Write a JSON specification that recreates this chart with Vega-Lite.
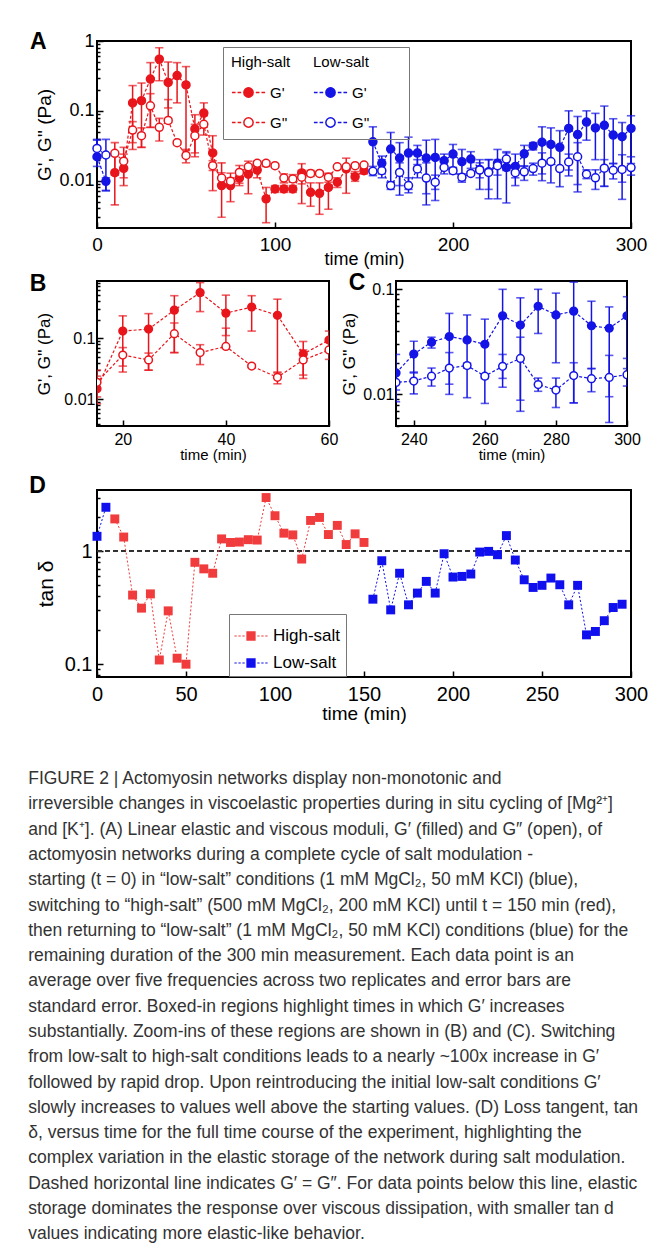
{
  "$schema": "https://vega.github.io/schema/vega-lite/v6.json",
  "background": "white",
  "padding": {"left": 28, "top": 30, "right": 0, "bottom": 0},
  "config": {
    "font": "Liberation Sans",
    "view": {"stroke": "black", "strokeWidth": 2},
    "axis": {"grid": false, "domain": false, "tickColor": "black", "tickSize": -6, "tickWidth": 1.5, "labelColor": "black", "titleColor": "black", "titleFontWeight": "normal", "labelFlush": false, "labelOverlap": false},
    "title": {"anchor": "start", "frame": "bounds", "fontWeight": "bold", "fontSize": 23, "baseline": "top", "offset": 0, "dx": -6, "color": "black"}
  },
  "title": {
    "text": [
      "FIGURE 2 | Actomyosin networks display non-monotonic and",
      "irreversible changes in viscoelastic properties during in situ cycling of [Mg²⁺]",
      "and [K⁺]. (A) Linear elastic and viscous moduli, G′ (filled) and G″ (open), of",
      "actomyosin networks during a complete cycle of salt modulation -",
      "starting (t = 0) in “low-salt” conditions (1 mM MgCl₂, 50 mM KCl) (blue),",
      "switching to “high-salt” (500 mM MgCl₂, 200 mM KCl) until t = 150 min (red),",
      "then returning to “low-salt” (1 mM MgCl₂, 50 mM KCl) conditions (blue) for the",
      "remaining duration of the 300 min measurement. Each data point is an",
      "average over five frequencies across two replicates and error bars are",
      "standard error. Boxed-in regions highlight times in which G′ increases",
      "substantially. Zoom-ins of these regions are shown in (B) and (C). Switching",
      "from low-salt to high-salt conditions leads to a nearly ~100x increase in G′",
      "followed by rapid drop. Upon reintroducing the initial low-salt conditions G′",
      "slowly increases to values well above the starting values. (D) Loss tangent, tan",
      "δ, versus time for the full time course of the experiment, highlighting the",
      "complex variation in the elastic storage of the network during salt modulation.",
      "Dashed horizontal line indicates G′ = G″. For data points below this line, elastic",
      "storage dominates the response over viscous dissipation, with smaller tan d",
      "values indicating more elastic-like behavior."
    ],
    "orient": "bottom",
    "anchor": "start",
    "frame": "bounds",
    "fontSize": 17.5,
    "fontWeight": "normal",
    "lineHeight": 25.3,
    "baseline": "top",
    "offset": 46,
    "dx": 0,
    "dy": 0,
    "color": "#333"
  },
  "datasets": {
    "g": [
      {"t":0,"seg":"a","k":"Low-salt G'","v":0.022,"lo":0.016,"hi":0.038},
      {"t":0,"seg":"a","k":"Low-salt G''","v":0.029,"lo":0.021,"hi":0.039},
      {"t":5,"seg":"a","k":"Low-salt G'","v":0.0098,"lo":0.0072,"hi":0.011},
      {"t":5,"seg":"a","k":"Low-salt G''","v":0.0233,"lo":0.0072,"hi":0.039},
      {"t":10,"seg":"b","k":"High-salt G'","v":0.013,"lo":0.0045,"hi":0.024},
      {"t":10,"seg":"b","k":"High-salt G''","v":0.0246,"lo":0.012,"hi":0.035},
      {"t":15,"seg":"b","k":"High-salt G'","v":0.015,"lo":0.0085,"hi":0.024},
      {"t":15,"seg":"b","k":"High-salt G''","v":0.019,"lo":0.011,"hi":0.03},
      {"t":20,"seg":"b","k":"High-salt G'","v":0.13,"lo":0.028,"hi":0.23},
      {"t":20,"seg":"b","k":"High-salt G''","v":0.053,"lo":0.035,"hi":0.07},
      {"t":25,"seg":"b","k":"High-salt G'","v":0.14,"lo":0.03,"hi":0.25},
      {"t":25,"seg":"b","k":"High-salt G''","v":0.044,"lo":0.03,"hi":0.057},
      {"t":30,"seg":"b","k":"High-salt G'","v":0.285,"lo":0.058,"hi":0.49},
      {"t":30,"seg":"b","k":"High-salt G''","v":0.118,"lo":0.058,"hi":0.176},
      {"t":35,"seg":"b","k":"High-salt G'","v":0.55,"lo":0.27,"hi":0.8},
      {"t":35,"seg":"b","k":"High-salt G''","v":0.058,"lo":0.037,"hi":0.078},
      {"t":40,"seg":"b","k":"High-salt G'","v":0.255,"lo":0.11,"hi":0.5},
      {"t":40,"seg":"b","k":"High-salt G''","v":0.073,"lo":0.068,"hi":0.145},
      {"t":45,"seg":"b","k":"High-salt G'","v":0.32,"lo":0.13,"hi":0.49},
      {"t":45,"seg":"b","k":"High-salt G''","v":0.035,"lo":0.033,"hi":0.037},
      {"t":50,"seg":"b","k":"High-salt G'","v":0.235,"lo":0.027,"hi":0.43},
      {"t":50,"seg":"b","k":"High-salt G''","v":0.023,"lo":0.018,"hi":0.028},
      {"t":55,"seg":"b","k":"High-salt G'","v":0.055,"lo":0.022,"hi":0.088},
      {"t":55,"seg":"b","k":"High-salt G''","v":0.044,"lo":0.025,"hi":0.064},
      {"t":60,"seg":"b","k":"High-salt G'","v":0.093,"lo":0.06,"hi":0.13},
      {"t":60,"seg":"b","k":"High-salt G''","v":0.064,"lo":0.045,"hi":0.085},
      {"t":65,"seg":"b","k":"High-salt G'","v":0.025,"lo":0.014,"hi":0.044},
      {"t":65,"seg":"b","k":"High-salt G''","v":0.0164,"lo":0.0072,"hi":0.0193},
      {"t":70,"seg":"b","k":"High-salt G'","v":0.0085,"lo":0.003,"hi":0.018},
      {"t":70,"seg":"b","k":"High-salt G''","v":0.0109,"lo":0.009,"hi":0.013},
      {"t":75,"seg":"b","k":"High-salt G'","v":0.0085,"lo":0.005,"hi":0.0128},
      {"t":75,"seg":"b","k":"High-salt G''","v":0.0098,"lo":0.0085,"hi":0.011},
      {"t":80,"seg":"b","k":"High-salt G'","v":0.0109,"lo":0.0092,"hi":0.013},
      {"t":80,"seg":"b","k":"High-salt G''","v":0.0131,"lo":0.0085,"hi":0.0165},
      {"t":85,"seg":"b","k":"High-salt G'","v":0.0124,"lo":0.0065,"hi":0.0165},
      {"t":85,"seg":"b","k":"High-salt G''","v":0.0158,"lo":0.014,"hi":0.019},
      {"t":90,"seg":"b","k":"High-salt G'","v":0.0142,"lo":0.011,"hi":0.0178},
      {"t":90,"seg":"b","k":"High-salt G''","v":0.0177,"lo":0.016,"hi":0.019},
      {"t":95,"seg":"b","k":"High-salt G'","v":0.0055,"lo":0.0025,"hi":0.008},
      {"t":95,"seg":"b","k":"High-salt G''","v":0.0177,"lo":0.016,"hi":0.019},
      {"t":100,"seg":"b","k":"High-salt G'","v":0.0076,"lo":0.0068,"hi":0.0085},
      {"t":100,"seg":"b","k":"High-salt G''","v":0.0164,"lo":0.0155,"hi":0.0172},
      {"t":105,"seg":"b","k":"High-salt G'","v":0.0076,"lo":0.0068,"hi":0.0085},
      {"t":105,"seg":"b","k":"High-salt G''","v":0.0109,"lo":0.0093,"hi":0.0125},
      {"t":110,"seg":"b","k":"High-salt G'","v":0.0076,"lo":0.0068,"hi":0.0085},
      {"t":110,"seg":"b","k":"High-salt G''","v":0.0106,"lo":0.0095,"hi":0.0122},
      {"t":115,"seg":"b","k":"High-salt G'","v":0.0129,"lo":0.0047,"hi":0.0175},
      {"t":115,"seg":"b","k":"High-salt G''","v":0.0112,"lo":0.009,"hi":0.014},
      {"t":120,"seg":"b","k":"High-salt G'","v":0.0068,"lo":0.0043,"hi":0.0093},
      {"t":120,"seg":"b","k":"High-salt G''","v":0.0127,"lo":0.0115,"hi":0.014},
      {"t":125,"seg":"b","k":"High-salt G'","v":0.0066,"lo":0.0033,"hi":0.0093},
      {"t":125,"seg":"b","k":"High-salt G''","v":0.0127,"lo":0.012,"hi":0.0135},
      {"t":130,"seg":"b","k":"High-salt G'","v":0.008,"lo":0.0039,"hi":0.0124},
      {"t":130,"seg":"b","k":"High-salt G''","v":0.0112,"lo":0.0095,"hi":0.0128},
      {"t":135,"seg":"b","k":"High-salt G'","v":0.0095,"lo":0.008,"hi":0.011},
      {"t":135,"seg":"b","k":"High-salt G''","v":0.0158,"lo":0.015,"hi":0.0165},
      {"t":140,"seg":"b","k":"High-salt G'","v":0.0147,"lo":0.0066,"hi":0.021},
      {"t":140,"seg":"b","k":"High-salt G''","v":0.0158,"lo":0.015,"hi":0.0165},
      {"t":145,"seg":"b","k":"High-salt G'","v":0.0114,"lo":0.0098,"hi":0.0135},
      {"t":145,"seg":"b","k":"High-salt G''","v":0.0164,"lo":0.0155,"hi":0.0172},
      {"t":150,"seg":"b","k":"High-salt G'","v":0.0139,"lo":0.0125,"hi":0.015},
      {"t":150,"seg":"b","k":"High-salt G''","v":0.0167,"lo":0.0158,"hi":0.0175},
      {"t":155,"seg":"c","k":"Low-salt G'","v":0.036,"lo":0.0142,"hi":0.059},
      {"t":155,"seg":"c","k":"Low-salt G''","v":0.0136,"lo":0.0118,"hi":0.016},
      {"t":160,"seg":"c","k":"Low-salt G'","v":0.0177,"lo":0.0125,"hi":0.0225},
      {"t":160,"seg":"c","k":"Low-salt G''","v":0.0139,"lo":0.011,"hi":0.02},
      {"t":165,"seg":"c","k":"Low-salt G'","v":0.0284,"lo":0.0095,"hi":0.049},
      {"t":165,"seg":"c","k":"Low-salt G''","v":0.0085,"lo":0.0075,"hi":0.0095},
      {"t":170,"seg":"c","k":"Low-salt G'","v":0.0211,"lo":0.0062,"hi":0.035},
      {"t":170,"seg":"c","k":"Low-salt G''","v":0.0131,"lo":0.0085,"hi":0.018},
      {"t":175,"seg":"c","k":"Low-salt G'","v":0.0248,"lo":0.0067,"hi":0.042},
      {"t":175,"seg":"c","k":"Low-salt G''","v":0.0085,"lo":0.0075,"hi":0.011},
      {"t":180,"seg":"c","k":"Low-salt G'","v":0.0248,"lo":0.017,"hi":0.032},
      {"t":180,"seg":"c","k":"Low-salt G''","v":0.0147,"lo":0.011,"hi":0.02},
      {"t":185,"seg":"c","k":"Low-salt G'","v":0.0211,"lo":0.0045,"hi":0.038},
      {"t":185,"seg":"c","k":"Low-salt G''","v":0.0109,"lo":0.0065,"hi":0.018},
      {"t":190,"seg":"c","k":"Low-salt G'","v":0.0215,"lo":0.0052,"hi":0.039},
      {"t":190,"seg":"c","k":"Low-salt G''","v":0.0095,"lo":0.0075,"hi":0.012},
      {"t":195,"seg":"c","k":"Low-salt G'","v":0.0193,"lo":0.015,"hi":0.024},
      {"t":195,"seg":"c","k":"Low-salt G''","v":0.0155,"lo":0.0125,"hi":0.019},
      {"t":200,"seg":"c","k":"Low-salt G'","v":0.024,"lo":0.015,"hi":0.033},
      {"t":200,"seg":"c","k":"Low-salt G''","v":0.0139,"lo":0.0125,"hi":0.0155},
      {"t":205,"seg":"c","k":"Low-salt G'","v":0.0187,"lo":0.0095,"hi":0.028},
      {"t":205,"seg":"c","k":"Low-salt G''","v":0.0112,"lo":0.01,"hi":0.0125},
      {"t":210,"seg":"c","k":"Low-salt G'","v":0.0204,"lo":0.015,"hi":0.026},
      {"t":210,"seg":"c","k":"Low-salt G''","v":0.0127,"lo":0.012,"hi":0.0135},
      {"t":215,"seg":"c","k":"Low-salt G'","v":0.0145,"lo":0.011,"hi":0.018},
      {"t":215,"seg":"c","k":"Low-salt G''","v":0.0142,"lo":0.0075,"hi":0.02},
      {"t":220,"seg":"c","k":"Low-salt G'","v":0.0134,"lo":0.0055,"hi":0.02},
      {"t":220,"seg":"c","k":"Low-salt G''","v":0.0131,"lo":0.0075,"hi":0.02},
      {"t":225,"seg":"c","k":"Low-salt G'","v":0.0177,"lo":0.0055,"hi":0.028},
      {"t":225,"seg":"c","k":"Low-salt G''","v":0.0164,"lo":0.012,"hi":0.02},
      {"t":230,"seg":"c","k":"Low-salt G'","v":0.0155,"lo":0.0048,"hi":0.026},
      {"t":230,"seg":"c","k":"Low-salt G''","v":0.0204,"lo":0.014,"hi":0.025},
      {"t":235,"seg":"c","k":"Low-salt G'","v":0.016,"lo":0.011,"hi":0.024},
      {"t":235,"seg":"c","k":"Low-salt G''","v":0.013,"lo":0.0085,"hi":0.0165},
      {"t":240,"seg":"c","k":"Low-salt G'","v":0.0242,"lo":0.016,"hi":0.032},
      {"t":240,"seg":"c","k":"Low-salt G''","v":0.0134,"lo":0.0101,"hi":0.0163},
      {"t":245,"seg":"c","k":"Low-salt G'","v":0.0314,"lo":0.0276,"hi":0.035},
      {"t":245,"seg":"c","k":"Low-salt G''","v":0.0149,"lo":0.012,"hi":0.0178},
      {"t":250,"seg":"c","k":"Low-salt G'","v":0.0355,"lo":0.01,"hi":0.059},
      {"t":250,"seg":"c","k":"Low-salt G''","v":0.0178,"lo":0.0125,"hi":0.025},
      {"t":255,"seg":"c","k":"Low-salt G'","v":0.033,"lo":0.0093,"hi":0.057},
      {"t":255,"seg":"c","k":"Low-salt G''","v":0.0188,"lo":0.0178,"hi":0.0198},
      {"t":260,"seg":"c","k":"Low-salt G'","v":0.03,"lo":0.0082,"hi":0.052},
      {"t":260,"seg":"c","k":"Low-salt G''","v":0.0149,"lo":0.0142,"hi":0.0156},
      {"t":265,"seg":"c","k":"Low-salt G'","v":0.056,"lo":0.0117,"hi":0.1},
      {"t":265,"seg":"c","k":"Low-salt G''","v":0.0185,"lo":0.0142,"hi":0.024},
      {"t":270,"seg":"c","k":"Low-salt G'","v":0.0457,"lo":0.0069,"hi":0.083},
      {"t":270,"seg":"c","k":"Low-salt G''","v":0.022,"lo":0.0088,"hi":0.035},
      {"t":275,"seg":"c","k":"Low-salt G'","v":0.069,"lo":0.038,"hi":0.1},
      {"t":275,"seg":"c","k":"Low-salt G''","v":0.0124,"lo":0.0107,"hi":0.0143},
      {"t":280,"seg":"c","k":"Low-salt G'","v":0.057,"lo":0.02,"hi":0.092},
      {"t":280,"seg":"c","k":"Low-salt G''","v":0.011,"lo":0.0075,"hi":0.0143},
      {"t":285,"seg":"c","k":"Low-salt G'","v":0.062,"lo":0.0083,"hi":0.117},
      {"t":285,"seg":"c","k":"Low-salt G''","v":0.0151,"lo":0.0083,"hi":0.02},
      {"t":290,"seg":"c","k":"Low-salt G'","v":0.045,"lo":0.0176,"hi":0.077},
      {"t":290,"seg":"c","k":"Low-salt G''","v":0.0141,"lo":0.0106,"hi":0.0176},
      {"t":295,"seg":"c","k":"Low-salt G'","v":0.0426,"lo":0.0054,"hi":0.068},
      {"t":295,"seg":"c","k":"Low-salt G''","v":0.0145,"lo":0.0095,"hi":0.0235},
      {"t":300,"seg":"c","k":"Low-salt G'","v":0.056,"lo":0.0176,"hi":0.085},
      {"t":300,"seg":"c","k":"Low-salt G''","v":0.0154,"lo":0.012,"hi":0.022}
    ],
    "tan": [
      {"t":0,"s":"Low-salt","seg":"a","v":1.36},{"t":5,"s":"Low-salt","seg":"a","v":2.46},
      {"t":10,"s":"High-salt","seg":"b","v":1.94},{"t":15,"s":"High-salt","seg":"b","v":1.34},
      {"t":20,"s":"High-salt","seg":"b","v":0.41},{"t":25,"s":"High-salt","seg":"b","v":0.314},
      {"t":30,"s":"High-salt","seg":"b","v":0.42},{"t":35,"s":"High-salt","seg":"b","v":0.109},
      {"t":40,"s":"High-salt","seg":"b","v":0.297},{"t":45,"s":"High-salt","seg":"b","v":0.113},
      {"t":50,"s":"High-salt","seg":"b","v":0.1},{"t":55,"s":"High-salt","seg":"b","v":0.8},
      {"t":60,"s":"High-salt","seg":"b","v":0.7},{"t":65,"s":"High-salt","seg":"b","v":0.64},
      {"t":70,"s":"High-salt","seg":"b","v":1.29},{"t":75,"s":"High-salt","seg":"b","v":1.2},
      {"t":80,"s":"High-salt","seg":"b","v":1.21},{"t":85,"s":"High-salt","seg":"b","v":1.27},
      {"t":90,"s":"High-salt","seg":"b","v":1.26},{"t":95,"s":"High-salt","seg":"b","v":3.0},
      {"t":100,"s":"High-salt","seg":"b","v":2.07},{"t":105,"s":"High-salt","seg":"b","v":1.45},
      {"t":110,"s":"High-salt","seg":"b","v":1.4},{"t":115,"s":"High-salt","seg":"b","v":0.855},
      {"t":120,"s":"High-salt","seg":"b","v":1.88},{"t":125,"s":"High-salt","seg":"b","v":2.0},
      {"t":130,"s":"High-salt","seg":"b","v":1.41},{"t":135,"s":"High-salt","seg":"b","v":1.7},
      {"t":140,"s":"High-salt","seg":"b","v":1.15},{"t":145,"s":"High-salt","seg":"b","v":1.43},
      {"t":150,"s":"High-salt","seg":"b","v":1.2},
      {"t":155,"s":"Low-salt","seg":"c","v":0.377},{"t":160,"s":"Low-salt","seg":"c","v":0.826},
      {"t":165,"s":"Low-salt","seg":"c","v":0.303},{"t":170,"s":"Low-salt","seg":"c","v":0.64},
      {"t":175,"s":"Low-salt","seg":"c","v":0.336},{"t":180,"s":"Low-salt","seg":"c","v":0.427},
      {"t":185,"s":"Low-salt","seg":"c","v":0.542},{"t":190,"s":"Low-salt","seg":"c","v":0.427},
      {"t":195,"s":"Low-salt","seg":"c","v":0.953},{"t":200,"s":"Low-salt","seg":"c","v":0.592},
      {"t":205,"s":"Low-salt","seg":"c","v":0.6},{"t":210,"s":"Low-salt","seg":"c","v":0.63},
      {"t":215,"s":"Low-salt","seg":"c","v":0.986},{"t":220,"s":"Low-salt","seg":"c","v":1.0},
      {"t":225,"s":"Low-salt","seg":"c","v":0.934},{"t":230,"s":"Low-salt","seg":"c","v":1.38},
      {"t":235,"s":"Low-salt","seg":"c","v":0.838},{"t":240,"s":"Low-salt","seg":"c","v":0.56},
      {"t":245,"s":"Low-salt","seg":"c","v":0.479},{"t":250,"s":"Low-salt","seg":"c","v":0.5},
      {"t":255,"s":"Low-salt","seg":"c","v":0.58},{"t":260,"s":"Low-salt","seg":"c","v":0.506},
      {"t":265,"s":"Low-salt","seg":"c","v":0.336},{"t":270,"s":"Low-salt","seg":"c","v":0.5},
      {"t":275,"s":"Low-salt","seg":"c","v":0.182},{"t":280,"s":"Low-salt","seg":"c","v":0.195},
      {"t":285,"s":"Low-salt","seg":"c","v":0.243},{"t":290,"s":"Low-salt","seg":"c","v":0.318},
      {"t":295,"s":"Low-salt","seg":"c","v":0.34}
    ]
  },
  "concat": [
    {
      "concat": [
        {
          "title": {"text": "A", "dy": 26},
          "width": 534,
          "height": 187,
          "data": {"name": "g"},
          "encoding": {
            "x": {"field": "t", "type": "quantitative", "scale": {"domain": [0, 300], "nice": false}, "axis": {"values": [0, 100, 200, 300], "title": "time (min)", "labelFontSize": 19, "titleFontSize": 18, "labelPadding": 13, "titlePadding": -4}},
            "y": {"field": "v", "type": "quantitative", "scale": {"type": "log", "domain": [0.0021, 1], "nice": false}, "axis": {"values": [0.003, 0.004, 0.005, 0.006, 0.007, 0.008, 0.009, 0.01, 0.02, 0.03, 0.04, 0.05, 0.06, 0.07, 0.08, 0.09, 0.1, 0.2, 0.3, 0.4, 0.5, 0.6, 0.7, 0.8, 0.9, 1], "format": "~g", "labelExpr": "indexof([0.01, 0.1, 1], datum.value) >= 0 ? datum.label : ''", "tickSize": {"condition": {"test": "indexof([0.01, 0.1, 1], datum.value) >= 0", "value": -6}, "value": -3}, "title": "G', G'' (Pa)", "labelFontSize": 18, "titleFontSize": 19, "labelPadding": 9, "titlePadding": 4}}
          },
          "layer": [
            {
              "data": {"values": [{"a": 12}, {"a": 60}, {"a": 230}, {"a": 301.5}]},
              "mark": {"type": "rule", "stroke": "#111", "strokeWidth": 1.3, "strokeDash": [4, 3]},
              "encoding": {"x": {"field": "a", "type": "quantitative"}, "y": {"datum": 1}, "y2": {"datum": 0.0021}}
            },
            {
              "transform": [{"calculate": "indexof(datum.k, 'High') >= 0 ? '#e8161c' : '#1414e6'", "as": "sc"}],
              "mark": {"type": "rule", "strokeWidth": 1.5},
              "encoding": {"y": {"field": "lo", "type": "quantitative"}, "y2": {"field": "hi"}, "stroke": {"field": "sc", "type": "nominal", "scale": null}}
            },
            {
              "transform": [{"calculate": "indexof(datum.k, 'High') >= 0 ? '#e8161c' : '#1414e6'", "as": "sc"}],
              "mark": {"type": "tick", "orient": "horizontal", "size": 7, "thickness": 0.3, "filled": false, "strokeWidth": 1.3},
              "encoding": {"y": {"field": "lo", "type": "quantitative"}, "stroke": {"field": "sc", "type": "nominal", "scale": null}}
            },
            {
              "transform": [{"calculate": "indexof(datum.k, 'High') >= 0 ? '#e8161c' : '#1414e6'", "as": "sc"}],
              "mark": {"type": "tick", "orient": "horizontal", "size": 7, "thickness": 0.3, "filled": false, "strokeWidth": 1.3},
              "encoding": {"y": {"field": "hi", "type": "quantitative"}, "stroke": {"field": "sc", "type": "nominal", "scale": null}}
            },
            {
              "transform": [{"calculate": "indexof(datum.k, 'High') >= 0 ? '#e8161c' : '#1414e6'", "as": "sc"}],
              "mark": {"type": "line", "strokeWidth": 1.2, "strokeDash": [3, 2]},
              "encoding": {"stroke": {"field": "sc", "type": "nominal", "scale": null}, "detail": [{"field": "seg"}, {"field": "k"}]}
            },
            {
              "transform": [{"filter": "indexof(datum.k, 'High') >= 0"}],
              "mark": {"type": "point", "shape": "circle", "size": 64, "strokeWidth": 1.5, "opacity": 1, "stroke": "#e8161c"},
              "encoding": {
                "fill": {"field": "k", "type": "nominal", "scale": {"domain": ["High-salt G'", "High-salt G''"], "range": ["#e8161c", "white"]},
                  "legend": {"orient": "none", "legendX": 126, "legendY": 6, "title": "High-salt\u2800\u2800\u2800\u2800\u2800\u2800\u2800\u2800\u2800\u2800", "titleFontSize": 15, "titleFontWeight": "normal", "titlePadding": 5, "titleLimit": 400, "labelFontSize": 15, "labelExpr": "split(datum.label, ' ')[1]", "symbolType": "M-1,0H-0.78M-0.66,0H-0.44M0.44,0H0.66M0.78,0H1M0.28,0A0.28,0.28 0 1,1 -0.28,0A0.28,0.28 0 1,1 0.28,0Z", "symbolSize": 1100, "symbolStrokeWidth": 1.5, "symbolStrokeColor": "#e8161c", "strokeColor": "#777", "fillColor": "transparent", "padding": 8, "rowPadding": 4, "labelOffset": 4}}
              }
            },
            {
              "transform": [{"filter": "indexof(datum.k, 'Low') >= 0"}],
              "mark": {"type": "point", "shape": "circle", "size": 64, "strokeWidth": 1.5, "opacity": 1, "stroke": "#1414e6"},
              "encoding": {
                "fill": {"field": "k", "type": "nominal", "scale": {"domain": ["Low-salt G'", "Low-salt G''"], "range": ["#1414e6", "white"]},
                  "legend": {"orient": "none", "legendX": 208, "legendY": 6, "title": "Low-salt", "titleFontSize": 15, "titleFontWeight": "normal", "titlePadding": 5, "labelFontSize": 15, "labelExpr": "split(datum.label, ' ')[1]", "symbolType": "M-1,0H-0.78M-0.66,0H-0.44M0.44,0H0.66M0.78,0H1M0.28,0A0.28,0.28 0 1,1 -0.28,0A0.28,0.28 0 1,1 0.28,0Z", "symbolSize": 1100, "symbolStrokeWidth": 1.5, "symbolStrokeColor": "#1414e6", "strokeColor": "transparent", "fillColor": "transparent", "padding": 8, "rowPadding": 4, "labelOffset": 4}}
              }
            }
          ],
          "resolve": {"scale": {"fill": "independent"}, "legend": {"fill": "independent"}}
        },
        {
          "hconcat": [
            {
              "title": {"text": "B", "dy": 25},
              "width": 232,
              "height": 145,
              "data": {"name": "g"},
              "transform": [
                {"calculate": "indexof(datum.k, 'High') >= 0 ? '#e8161c' : '#1414e6'", "as": "sc"},
                {"calculate": "indexof(datum.k, \"''\") >= 0 ? 'white' : datum.sc", "as": "fc"}
              ],
              "encoding": {
                "x": {"field": "t", "type": "quantitative", "scale": {"domain": [15, 60], "nice": false}, "axis": {"values": [20, 40, 60], "title": "time (min)", "labelFontSize": 16, "titleFontSize": 15, "labelPadding": 11, "titlePadding": 0}},
                "y": {"field": "v", "type": "quantitative", "scale": {"type": "log", "domain": [0.0037, 0.85], "nice": false}, "axis": {"values": [0.004, 0.005, 0.006, 0.007, 0.008, 0.009, 0.01, 0.02, 0.03, 0.04, 0.05, 0.06, 0.07, 0.08, 0.09, 0.1, 0.2, 0.3, 0.4, 0.5, 0.6, 0.7, 0.8], "format": "~g", "labelExpr": "indexof([0.01, 0.1], datum.value) >= 0 ? datum.label : ''", "tickSize": {"condition": {"test": "indexof([0.01, 0.1], datum.value) >= 0", "value": -6}, "value": -3}, "title": "G', G'' (Pa)", "labelFontSize": 16, "titleFontSize": 17, "labelPadding": 8, "titlePadding": 10}}
              },
              "layer": [
                {"mark": {"type": "rule", "strokeWidth": 1.5, "clip": true}, "encoding": {"y": {"field": "lo", "type": "quantitative"}, "y2": {"field": "hi"}, "stroke": {"field": "sc", "type": "nominal", "scale": null}}},
                {"mark": {"type": "tick", "orient": "horizontal", "size": 7, "thickness": 0.3, "filled": false, "strokeWidth": 1.3, "clip": true}, "encoding": {"y": {"field": "lo", "type": "quantitative"}, "stroke": {"field": "sc", "type": "nominal", "scale": null}}},
                {"mark": {"type": "tick", "orient": "horizontal", "size": 7, "thickness": 0.3, "filled": false, "strokeWidth": 1.3, "clip": true}, "encoding": {"y": {"field": "hi", "type": "quantitative"}, "stroke": {"field": "sc", "type": "nominal", "scale": null}}},
                {"mark": {"type": "line", "strokeWidth": 1.2, "strokeDash": [3, 2], "clip": true}, "encoding": {"stroke": {"field": "sc", "type": "nominal", "scale": null}, "detail": [{"field": "seg"}, {"field": "k"}]}},
                {"mark": {"type": "point", "shape": "circle", "size": 60, "strokeWidth": 1.5, "opacity": 1, "clip": true},
                  "encoding": {"stroke": {"field": "sc", "type": "nominal", "scale": null}, "fill": {"field": "fc", "type": "nominal", "scale": null}}}
              ]
            },
            {
              "title": {"text": "C", "dy": 18, "dx": 8},
              "width": 231,
              "height": 145,
              "data": {"name": "g"},
              "transform": [
                {"calculate": "indexof(datum.k, 'High') >= 0 ? '#e8161c' : '#1414e6'", "as": "sc"},
                {"calculate": "indexof(datum.k, \"''\") >= 0 ? 'white' : datum.sc", "as": "fc"}
              ],
              "encoding": {
                "x": {"field": "t", "type": "quantitative", "scale": {"domain": [235, 300], "nice": false}, "axis": {"values": [240, 260, 280, 300], "title": "time (min)", "labelFontSize": 16, "titleFontSize": 15, "labelPadding": 11, "titlePadding": 0}},
                "y": {"field": "v", "type": "quantitative", "scale": {"type": "log", "domain": [0.005, 0.12], "nice": false}, "axis": {"values": [0.005, 0.006, 0.007, 0.008, 0.009, 0.01, 0.02, 0.03, 0.04, 0.05, 0.06, 0.07, 0.08, 0.09, 0.1], "format": "~g", "labelExpr": "indexof([0.01, 0.1], datum.value) >= 0 ? datum.label : ''", "tickSize": {"condition": {"test": "indexof([0.01, 0.1], datum.value) >= 0", "value": -6}, "value": -3}, "title": "G', G'' (Pa)", "labelFontSize": 16, "titleFontSize": 17, "labelPadding": 8, "titlePadding": 4}}
              },
              "layer": [
                {"mark": {"type": "rule", "strokeWidth": 1.5, "clip": true}, "encoding": {"y": {"field": "lo", "type": "quantitative"}, "y2": {"field": "hi"}, "stroke": {"field": "sc", "type": "nominal", "scale": null}}},
                {"mark": {"type": "tick", "orient": "horizontal", "size": 7, "thickness": 0.3, "filled": false, "strokeWidth": 1.3, "clip": true}, "encoding": {"y": {"field": "lo", "type": "quantitative"}, "stroke": {"field": "sc", "type": "nominal", "scale": null}}},
                {"mark": {"type": "tick", "orient": "horizontal", "size": 7, "thickness": 0.3, "filled": false, "strokeWidth": 1.3, "clip": true}, "encoding": {"y": {"field": "hi", "type": "quantitative"}, "stroke": {"field": "sc", "type": "nominal", "scale": null}}},
                {"mark": {"type": "line", "strokeWidth": 1.2, "strokeDash": [3, 2], "clip": true}, "encoding": {"stroke": {"field": "sc", "type": "nominal", "scale": null}, "detail": [{"field": "seg"}, {"field": "k"}]}},
                {"mark": {"type": "point", "shape": "circle", "size": 60, "strokeWidth": 1.5, "opacity": 1, "clip": true},
                  "encoding": {"stroke": {"field": "sc", "type": "nominal", "scale": null}, "fill": {"field": "fc", "type": "nominal", "scale": null}}}
              ]
            }
          ],
          "spacing": 0
        }
      ],
      "columns": 1,
      "align": "none",
      "spacing": 2,
      "resolve": {"scale": {"stroke": "independent", "fill": "independent"}, "legend": {"stroke": "independent", "fill": "independent"}}
    },
    {
      "title": {"text": "D", "dy": 14},
      "width": 534,
      "height": 187,
      "data": {"name": "tan"},
      "encoding": {
        "x": {"field": "t", "type": "quantitative", "scale": {"domain": [0, 300], "nice": false}, "axis": {"values": [0, 50, 100, 150, 200, 250, 300], "title": "time (min)", "labelFontSize": 20, "titleFontSize": 19, "labelPadding": 13, "titlePadding": 0}},
        "y": {"field": "v", "type": "quantitative", "scale": {"type": "log", "domain": [0.077, 3.5], "nice": false}, "axis": {"values": [0.08, 0.09, 0.1, 0.2, 0.3, 0.4, 0.5, 0.6, 0.7, 0.8, 0.9, 1, 2, 3], "format": "~g", "labelExpr": "indexof([0.1, 1], datum.value) >= 0 ? datum.label : ''", "tickSize": {"condition": {"test": "indexof([0.1, 1], datum.value) >= 0", "value": -6}, "value": -3}, "title": "tan δ", "labelFontSize": 20, "titleFontSize": 21, "labelPadding": 11, "titlePadding": 8}}
      },
      "layer": [
        {
          "data": {"values": [{"a": 70}, {"a": 225}]},
          "mark": {"type": "rule", "stroke": "#111", "strokeWidth": 1.3, "strokeDash": [4, 3]},
          "encoding": {"x": {"field": "a", "type": "quantitative"}, "y": {"datum": 3.5}, "y2": {"datum": 0.077}}
        },
        {
          "mark": {"type": "rule", "stroke": "#333", "strokeWidth": 1.2, "strokeDash": [5, 3]},
          "encoding": {"y": {"datum": 1}, "x": {"datum": 0}, "x2": {"datum": 300}}
        },
        {
          "mark": {"type": "line", "strokeWidth": 1, "strokeDash": [2, 2]},
          "encoding": {"color": {"field": "s", "type": "nominal", "scale": {"domain": ["High-salt", "Low-salt"], "range": ["#f03c3c", "#1010ee"]}}, "detail": {"field": "seg"}}
        },
        {
          "mark": {"type": "point", "shape": "square", "size": 80, "filled": true, "opacity": 1},
          "encoding": {
            "color": {"field": "s", "type": "nominal",
              "legend": {"orient": "none", "legendX": 132, "legendY": 124, "title": null, "labelFontSize": 17, "symbolType": "M-0.28,-0.28H0.28V0.28H-0.28Z M-1,-0.035H-0.86V0.035H-1Z M-0.76,-0.035H-0.62V0.035H-0.76Z M-0.52,-0.035H-0.38V0.035H-0.52Z M0.38,-0.035H0.52V0.035H0.38Z M0.62,-0.035H0.76V0.035H0.62Z M0.86,-0.035H1V0.035H0.86Z", "symbolSize": 1100, "symbolStrokeWidth": 0, "strokeColor": "#777", "padding": 5, "fillColor": "white", "rowPadding": 2, "labelOffset": 5}}
          }
        }
      ]
    }
  ],
  "columns": 1,
  "align": "none",
  "spacing": 10,
  "resolve": {"scale": {"color": "independent", "stroke": "independent", "fill": "independent"}, "legend": {"color": "independent", "stroke": "independent", "fill": "independent"}}
}
